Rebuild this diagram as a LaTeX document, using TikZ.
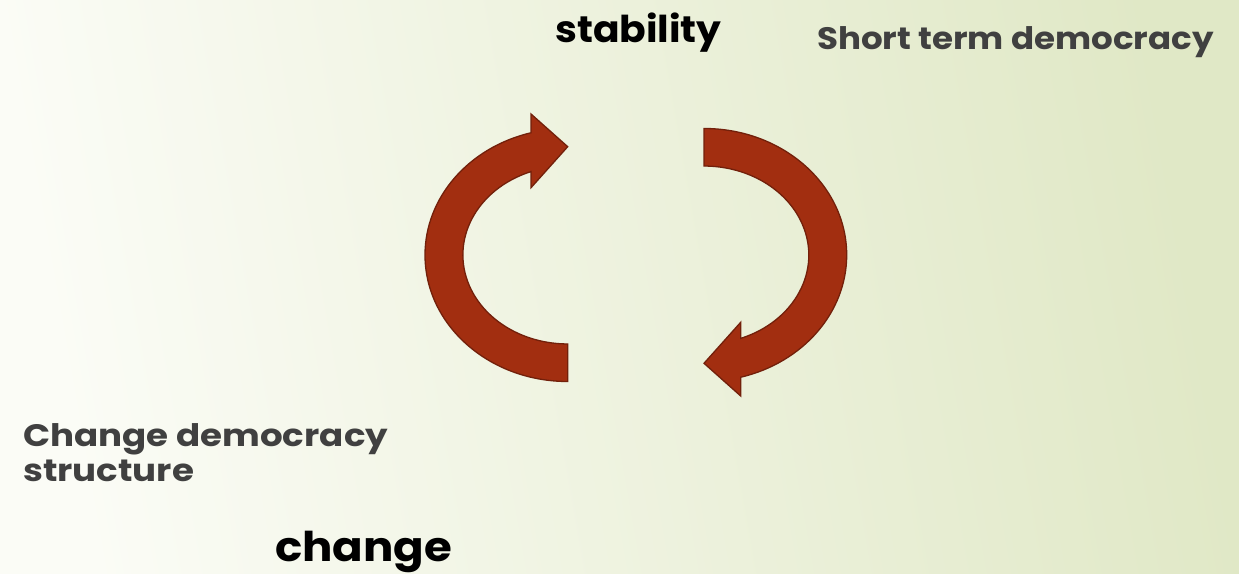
\documentclass[tikz,border=0pt]{standalone}
\usepackage{fontspec}
\setmainfont{Poppins}
\newfontfamily\widefont{Poppins}[FakeStretch=1.1]
\newfontfamily\widerfont{Poppins}[FakeStretch=1.15]
\newfontfamily\midfont{Poppins}[FakeStretch=1.06]
\definecolor{arrowfill}{HTML}{A22E10}
\definecolor{arrowline}{HTML}{72200B}
\definecolor{graytext}{HTML}{404040}
\definecolor{bgleft}{HTML}{FBFCF6}
\definecolor{bgright}{HTML}{E0E8C6}
\begin{document}
\begin{tikzpicture}[x=1pt,y=1pt,
  cyclearrow/.style={fill=arrowfill,draw=arrowline,line width=1.3pt,line join=miter},
  graylabel/.style={anchor=base west,inner sep=0pt,text=graytext,font=\widefont\bfseries\fontsize{31}{35}\selectfont,align=left},
  blacklabel/.style={anchor=base west,inner sep=0pt,text=black}]
\useasboundingbox (0,0) rectangle (1239,573);
\shade[shading=axis,left color=bgleft,right color=bgright,shading angle=100] (0,0) rectangle (1239,573);
% right arrow (clockwise, pointing down-left)
\draw[cyclearrow] (704,444.5) arc[start angle=90,end angle=-75.1,x radius=142.7,y radius=126.5]
  -- (740.7,177) -- (704,209.7) -- (740.7,250.7) -- (740.7,234.6)
  arc[start angle=-69.5,end angle=90,x radius=104.8,y radius=89] -- cycle;
% left arrow: same shape turned half a turn
\begin{scope}[rotate around={180:(635.85,318)}]
\draw[cyclearrow] (704,444.5) arc[start angle=90,end angle=-75.1,x radius=142.7,y radius=126.5]
  -- (740.7,177) -- (704,209.7) -- (740.7,250.7) -- (740.7,234.6)
  arc[start angle=-69.5,end angle=90,x radius=104.8,y radius=89] -- cycle;
\end{scope}
\node[blacklabel,font=\midfont\bfseries\fontsize{37}{40}\selectfont] (stab) at (555,530) {stability};
\node[graylabel] (short) at (817,523) {Short term democracy};
\node[graylabel,font=\widerfont\bfseries\fontsize{31}{35}\selectfont] (chg1) at (23,126.3) {Change democracy};
\node[graylabel,font=\widerfont\bfseries\fontsize{31}{35}\selectfont] (chg2) at (23,91.3) {structure};
\node[blacklabel,font=\widefont\bfseries\fontsize{41}{44}\selectfont] (chg) at (275,12) {change};
\end{tikzpicture}
\end{document}
